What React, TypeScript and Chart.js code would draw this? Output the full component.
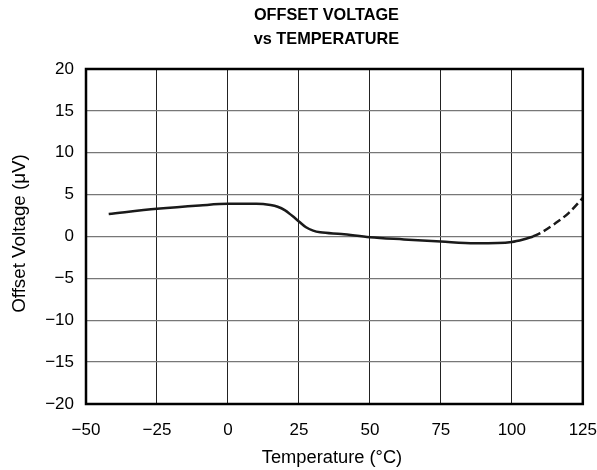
import React, { useEffect, useRef } from "react";
import { Chart, registerables } from "chart.js";

Chart.register(...registerables);

const titleLines = ["OFFSET VOLTAGE", "vs TEMPERATURE"];
const xTitle = "Temperature (°C)";
const yTitle = "Offset Voltage (μV)";

const solidTemp = [-42, -25, -10, 0, 10, 15, 17.5, 20, 22.5, 25, 27.5, 30, 32.5, 40, 50, 62, 75, 87, 95, 100, 104, 107.5];
const solidVolt = [2.7, 3.3, 3.7, 3.9, 3.9, 3.75, 3.55, 3.15, 2.5, 1.8, 1.1, 0.7, 0.5, 0.3, -0.1, -0.35, -0.6, -0.8, -0.78, -0.65, -0.35, 0];

const dashTemp = [107.5, 110, 115, 120, 125];
const dashVolt = [0, 0.4, 1.5, 2.8, 4.6];

const xMin = -50;
const xMax = 125;
const xStep = 25;
const yMin = -20;
const yMax = 20;
const yStep = 5;

const FONT = "'Liberation Sans', Arial, Helvetica, sans-serif";

const fmt = (v: number | string) => String(v).replace("-", "\u2212");

const textPlugin = {
  id: "customText",
  afterDraw(chart: any) {
    const { ctx, chartArea } = chart;
    const cx = (chartArea.left + chartArea.right) / 2;
    const cy = (chartArea.top + chartArea.bottom) / 2;
    ctx.save();
    // frame
    ctx.strokeStyle = "#000";
    ctx.lineWidth = 2.5;
    ctx.strokeRect(chartArea.left, chartArea.top, chartArea.right - chartArea.left, chartArea.bottom - chartArea.top);
    // title
    ctx.fillStyle = "#000";
    ctx.textAlign = "center";
    ctx.textBaseline = "alphabetic";
    ctx.font = `bold 16.3px ${FONT}`;
    ctx.fillText(titleLines[0], cx - 8, 19.5);
    ctx.fillText(titleLines[1], cx - 8, 43.5);
    // x title
    ctx.font = `18.3px ${FONT}`;
    ctx.fillText(xTitle, 332, 463);
    // y title
    ctx.font = `18.8px ${FONT}`;
    ctx.translate(25, cy - 3);
    ctx.rotate(-Math.PI / 2);
    ctx.fillText(yTitle, 0, 0);
    ctx.restore();
  },
};

export default function App() {
  const ref = useRef<HTMLCanvasElement | null>(null);
  useEffect(() => {
    if (!ref.current) return;
    const chart = new Chart(ref.current, {
      type: "line",
      data: {
        datasets: [
          {
            data: solidTemp.map((t, i) => ({ x: t, y: solidVolt[i] })),
            borderColor: "#1a1a1a",
            borderWidth: 2.5,
            pointRadius: 0,
            cubicInterpolationMode: "monotone",
            fill: false,
          },
          {
            data: dashTemp.map((t, i) => ({ x: t, y: dashVolt[i] })),
            borderColor: "#1a1a1a",
            borderWidth: 2.5,
            borderDash: [8, 4],
            pointRadius: 0,
            cubicInterpolationMode: "monotone",
            fill: false,
          },
        ],
      },
      options: {
        animation: false,
        responsive: true,
        maintainAspectRatio: false,
        layout: { padding: { top: 69, right: 1, left: 0, bottom: 0 } },
        plugins: {
          legend: { display: false },
          title: { display: false },
          tooltip: { enabled: false },
        },
        scales: {
          x: {
            type: "linear",
            min: xMin,
            max: xMax,
            afterFit: (s: any) => {
              s.height = 66;
            },
            ticks: {
              stepSize: xStep,
              color: "#000",
              font: { family: FONT, size: 17 },
              padding: 0,
              maxRotation: 0,
              callback: (v: any) => fmt(v),
            },
            grid: { color: "#222", lineWidth: 1, drawTicks: true, tickLength: 16, tickColor: "rgba(0,0,0,0)" },
            border: { display: false },
          },
          y: {
            type: "linear",
            min: yMin,
            max: yMax,
            afterFit: (s: any) => {
              s.width = 86;
            },
            ticks: {
              stepSize: yStep,
              color: "#000",
              font: { family: FONT, size: 17 },
              padding: 12,
              callback: (v: any) => fmt(v),
            },
            grid: { color: "#777", lineWidth: 1.3, drawTicks: false },
            border: { display: false },
          },
        },
      },
      plugins: [textPlugin],
    } as any);
    return () => chart.destroy();
  }, []);
  return (
    <div style={{ position: "absolute", left: 0, top: 0, width: 597, height: 470, background: "#fff" }}>
      <canvas ref={ref} />
    </div>
  );
}
